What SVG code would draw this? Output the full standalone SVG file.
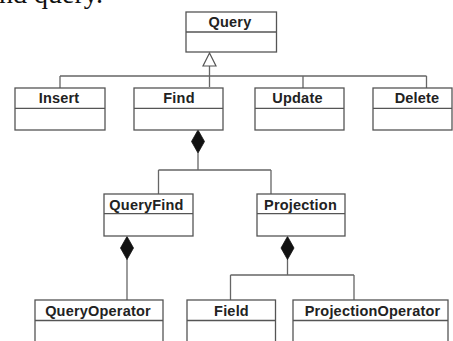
<svg xmlns="http://www.w3.org/2000/svg" width="453" height="341" viewBox="0 0 453 341">
<defs>
<style>
.box{fill:#fff;stroke:#555;stroke-width:1.3}
.div{stroke:#555;stroke-width:1.3}
.ln{fill:none;stroke:#666;stroke-width:1.3}
.t{font-family:"Liberation Sans",Arial,sans-serif;font-weight:bold;font-size:14.5px;letter-spacing:0.2px;fill:#222;text-anchor:middle}
.doc{font-family:"Liberation Serif","Times New Roman",serif;font-size:28px;fill:#111}
</style>
<path id="dia" d="M0,0 L6.5,11.5 L0,23 L-6.5,11.5 Z" fill="#111" stroke="#111" stroke-width="0.8"/>
<path id="tri" d="M0,0 L6.5,13 L-6.5,13 Z" fill="#fff" stroke="#555" stroke-width="1.2"/>
</defs>
<rect width="453" height="341" fill="#fff"/>
<text class="doc" x="103" y="3" text-anchor="end">and query.</text>

<g id="connectors">
<path class="ln" d="M209.5,66 V87 M60,76 H426.5 M60,76 V88 M303,76 V88 M426.5,76 V88"/>
<use href="#tri" x="209.5" y="53"/>
<path class="ln" d="M198,153 V170 M158.5,170 H271 M158.5,170 V194 M271,170 V194"/>
<use href="#dia" x="198" y="130"/>
<path class="ln" d="M127,259 V300"/>
<use href="#dia" x="127" y="236.5"/>
<path class="ln" d="M287.5,259 V275 M230.5,275 H354 M230.5,275 V300 M354,275 V300"/>
<use href="#dia" x="287.5" y="236.5"/>
</g>

<g id="Query"><rect class="box" x="186" y="12" width="90.5" height="40"/><line class="div" x1="186" y1="32" x2="276.5" y2="32"/><text class="t" x="230" y="27">Query</text></g>
<g id="Insert"><rect class="box" x="15" y="88" width="90" height="42"/><line class="div" x1="15" y1="108.3" x2="105" y2="108.3"/><text class="t" x="59" y="103">Insert</text></g>
<g id="Find"><rect class="box" x="134" y="88" width="89" height="42"/><line class="div" x1="134" y1="108.3" x2="223" y2="108.3"/><text class="t" x="179" y="103">Find</text></g>
<g id="Update"><rect class="box" x="255" y="88" width="89" height="42"/><line class="div" x1="255" y1="108.3" x2="344" y2="108.3"/><text class="t" x="297.5" y="103">Update</text></g>
<g id="Delete"><rect class="box" x="373" y="88" width="79" height="42"/><line class="div" x1="373" y1="108.3" x2="452" y2="108.3"/><text class="t" x="417" y="103">Delete</text></g>
<g id="QueryFind"><rect class="box" x="104" y="194" width="89" height="42"/><line class="div" x1="104" y1="213.7" x2="193" y2="213.7"/><text class="t" x="146.5" y="209.5">QueryFind</text></g>
<g id="Projection"><rect class="box" x="257" y="194" width="88" height="42"/><line class="div" x1="257" y1="213.7" x2="345" y2="213.7"/><text class="t" x="300.5" y="209.5">Projection</text></g>
<g id="QueryOperator"><rect class="box" x="35" y="300" width="128" height="50"/><line class="div" x1="35" y1="320.5" x2="163" y2="320.5"/><text class="t" x="98" y="316">QueryOperator</text></g>
<g id="Field"><rect class="box" x="187" y="300" width="88.5" height="50"/><line class="div" x1="187" y1="320.5" x2="275.5" y2="320.5"/><text class="t" x="231.5" y="316">Field</text></g>
<g id="ProjectionOperator"><rect class="box" x="293" y="300" width="155" height="50"/><line class="div" x1="293" y1="320.5" x2="448" y2="320.5"/><text class="t" x="372.5" y="316">ProjectionOperator</text></g>
</svg>
